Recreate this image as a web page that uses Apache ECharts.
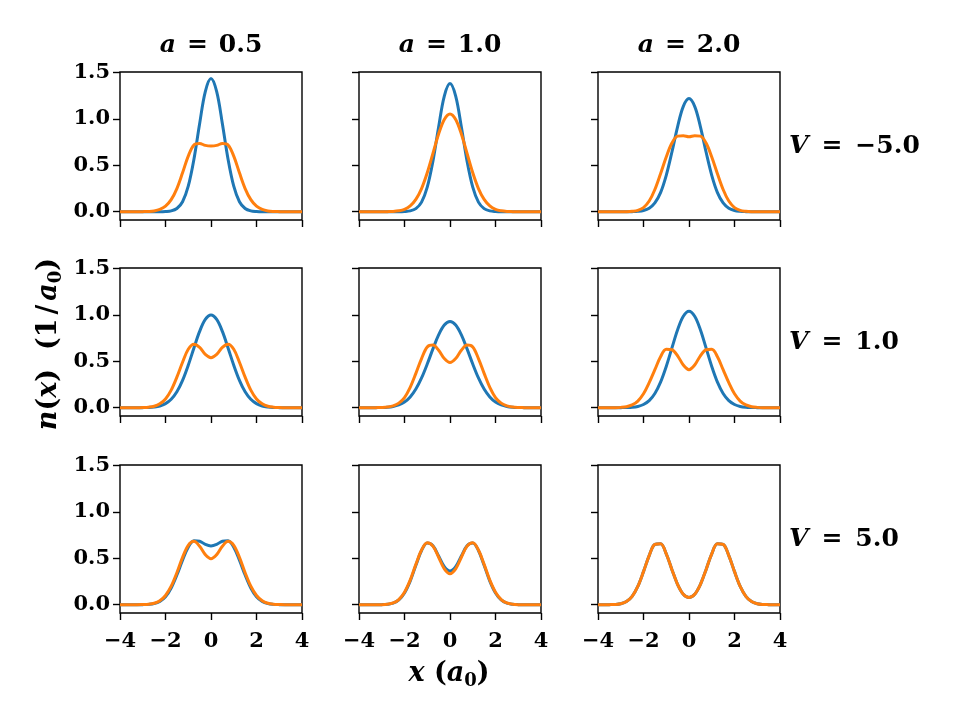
<!DOCTYPE html>
<html><head><meta charset="utf-8">
<script src="https://cdn.jsdelivr.net/npm/echarts@6/dist/echarts.min.js"></script>
<style>html,body{margin:0;padding:0;background:#fff}#c{width:960px;height:720px}</style>
</head><body><div id="c"></div>
<script>
// ---------- data ----------
const xValues = [-4,-3.75,-3.5,-3.25,-3,-2.75,-2.5,-2.25,-2,-1.75,-1.5,-1.25,-1,-0.75,-0.5,-0.25,0,0.25,0.5,0.75,1,1.25,1.5,1.75,2,2.25,2.5,2.75,3,3.25,3.5,3.75,4];
const aValues = ['0.5','1.0','2.0'];
const vValues = ['\u22125.0','1.0','5.0'];
const xTickValues = [-4,-2,0,2,4];
const xTickLabels = ['\u22124','\u22122','0','2','4'];
const yTickValues = [0,0.5,1,1.5];
const yTickLabels = ['0.0','0.5','1.0','1.5'];

// row V=-5
const blue_Vm5_a05 = [0,0,0,0,0,0,0,0,0.002,0.009,0.035,0.108,0.275,0.566,0.949,1.294,1.435,1.294,0.949,0.566,0.275,0.108,0.035,0.009,0.002,0,0,0,0,0,0,0,0];
const orange_Vm5_a05 = [0,0,0,0,0.001,0.003,0.009,0.025,0.06,0.13,0.25,0.42,0.60,0.72,0.735,0.715,0.709,0.715,0.735,0.72,0.60,0.42,0.25,0.13,0.06,0.025,0.009,0.003,0.001,0,0,0,0];
const blue_Vm5_a10 = [0,0,0,0,0,0,0,0,0.002,0.009,0.034,0.104,0.265,0.545,0.914,1.247,1.382,1.247,0.914,0.545,0.265,0.104,0.034,0.009,0.002,0,0,0,0,0,0,0,0];
const orange_Vm5_a10 = [0,0,0,0,0,0.001,0.003,0.010,0.026,0.063,0.133,0.250,0.420,0.628,0.837,0.995,1.054,0.995,0.837,0.628,0.420,0.250,0.133,0.063,0.026,0.010,0.003,0.001,0,0,0,0,0];
const blue_Vm5_a20 = [0,0,0,0,0,0,0.001,0.004,0.013,0.038,0.095,0.206,0.392,0.644,0.918,1.136,1.22,1.136,0.918,0.644,0.392,0.206,0.095,0.038,0.013,0.004,0.001,0,0,0,0,0,0];
const orange_Vm5_a20 = [0,0,0,0,0,0.001,0.005,0.015,0.045,0.115,0.24,0.41,0.59,0.74,0.815,0.818,0.808,0.818,0.815,0.74,0.59,0.41,0.24,0.115,0.045,0.015,0.005,0.001,0,0,0,0,0];
// row V=1
const blue_V1_a05 = [0,0,0,0,0.001,0.003,0.008,0.019,0.044,0.091,0.172,0.295,0.458,0.644,0.823,0.952,1.0,0.952,0.823,0.644,0.458,0.295,0.172,0.091,0.044,0.019,0.008,0.003,0.001,0,0,0,0];
const orange_V1_a05 = [0,0,0,0,0.002,0.006,0.016,0.042,0.095,0.19,0.33,0.49,0.63,0.683,0.65,0.575,0.54,0.575,0.65,0.683,0.63,0.49,0.33,0.19,0.095,0.042,0.016,0.006,0.002,0,0,0,0];
const blue_V1_a10 = [0,0,0,0.001,0.002,0.005,0.013,0.030,0.061,0.116,0.201,0.321,0.471,0.634,0.785,0.891,0.93,0.891,0.785,0.634,0.471,0.321,0.201,0.116,0.061,0.030,0.013,0.005,0.002,0.001,0,0,0];
const orange_V1_a10 = [0,0,0,0.001,0.003,0.008,0.02,0.05,0.11,0.22,0.37,0.53,0.655,0.675,0.62,0.53,0.487,0.53,0.62,0.675,0.655,0.53,0.37,0.22,0.11,0.05,0.02,0.008,0.003,0.001,0,0,0];
const blue_V1_a20 = [0,0,0,0,0.001,0.002,0.005,0.014,0.035,0.077,0.154,0.276,0.445,0.645,0.841,0.986,1.04,0.986,0.841,0.645,0.445,0.276,0.154,0.077,0.035,0.014,0.005,0.002,0.001,0,0,0,0];
const orange_V1_a20 = [0,0,0,0.001,0.004,0.011,0.03,0.072,0.15,0.27,0.41,0.55,0.63,0.625,0.56,0.46,0.41,0.46,0.56,0.625,0.63,0.55,0.41,0.27,0.15,0.072,0.03,0.011,0.004,0.001,0,0,0];
// row V=5
const blue_V5_a05 = [0,0,0,0,0.001,0.004,0.012,0.035,0.085,0.18,0.32,0.48,0.62,0.69,0.685,0.65,0.633,0.65,0.685,0.69,0.62,0.48,0.32,0.18,0.085,0.035,0.012,0.004,0.001,0,0,0,0];
const orange_V5_a05 = [0,0,0,0,0.002,0.005,0.016,0.043,0.1,0.2,0.345,0.51,0.64,0.683,0.63,0.54,0.496,0.54,0.63,0.683,0.64,0.51,0.345,0.2,0.1,0.043,0.016,0.005,0.002,0,0,0,0];
const blue_V5_a10 = [0,0,0,0,0.001,0.005,0.017,0.052,0.127,0.255,0.425,0.585,0.665,0.635,0.525,0.41,0.363,0.41,0.525,0.635,0.665,0.585,0.425,0.255,0.127,0.052,0.017,0.005,0.001,0,0,0,0];
const orange_V5_a10 = [0,0,0,0,0.001,0.006,0.019,0.056,0.135,0.265,0.435,0.590,0.667,0.632,0.512,0.387,0.335,0.387,0.512,0.632,0.667,0.590,0.435,0.265,0.135,0.056,0.019,0.006,0.001,0,0,0,0];
const blue_V5_a20 = [0,0,0.001,0.003,0.011,0.034,0.091,0.198,0.357,0.530,0.650,0.657,0.549,0.378,0.218,0.113,0.078,0.113,0.218,0.378,0.549,0.657,0.650,0.530,0.357,0.198,0.091,0.034,0.011,0.003,0.001,0,0];
const orange_V5_a20 = [0,0,0.001,0.003,0.011,0.034,0.091,0.198,0.357,0.530,0.650,0.657,0.549,0.378,0.218,0.113,0.078,0.113,0.218,0.378,0.549,0.657,0.650,0.530,0.357,0.198,0.091,0.034,0.011,0.003,0.001,0,0];

const panels = [
  [blue_Vm5_a05, orange_Vm5_a05], [blue_Vm5_a10, orange_Vm5_a10], [blue_Vm5_a20, orange_Vm5_a20],
  [blue_V1_a05, orange_V1_a05], [blue_V1_a10, orange_V1_a10], [blue_V1_a20, orange_V1_a20],
  [blue_V5_a05, orange_V5_a05], [blue_V5_a10, orange_V5_a10], [blue_V5_a20, orange_V5_a20]
];

// ---------- layout / style ----------
const FONT = 'DejaVu Serif';
const colLeft = [120, 359, 598];
const rowTop = [72, 268, 465];
const PW = 182, PH = 148;
const BLUE = '#1f77b4', ORANGE = '#ff7f0e';

const grids = [], xAxes = [], yAxes = [], series = [];
for (let r = 0; r < 3; r++) {
  for (let c = 0; c < 3; c++) {
    const i = r * 3 + c;
    grids.push({left: colLeft[c], top: rowTop[r], width: PW, height: PH, show: true,
      borderColor: '#000', borderWidth: 1.4, backgroundColor: 'transparent', containLabel: false});
    xAxes.push({gridIndex: i, type: 'value', min: -4, max: 4,
      axisLine: {show: false, onZero: false},
      splitLine: {show: false},
      axisTick: {show: true, customValues: xTickValues, length: 7, lineStyle: {color: '#000', width: 1.4}},
      axisLabel: {show: r === 2, customValues: xTickValues, margin: 18,
        formatter: v => xTickLabels[xTickValues.indexOf(v)],
        fontFamily: FONT, fontWeight: 'bold', fontSize: 21, color: '#000'}
    });
    yAxes.push({gridIndex: i, type: 'value', min: -0.089, max: 1.506,
      axisLine: {show: false, onZero: false},
      splitLine: {show: false},
      axisTick: {show: true, customValues: yTickValues, length: 7, lineStyle: {color: '#000', width: 1.4}},
      axisLabel: {show: c === 0, customValues: yTickValues, margin: 10,
        formatter: v => yTickLabels[yTickValues.indexOf(v)],
        fontFamily: FONT, fontWeight: 'bold', fontSize: 21, color: '#000'}
    });
    const [b, o] = panels[i];
    series.push({type: 'line', xAxisIndex: i, yAxisIndex: i, showSymbol: false, smooth: 0.35,
      data: xValues.map((x, k) => [x, b[k]]), lineStyle: {color: BLUE, width: 3}, itemStyle: {color: BLUE}, z: 2, silent: true});
    series.push({type: 'line', xAxisIndex: i, yAxisIndex: i, showSymbol: false, smooth: 0.35,
      data: xValues.map((x, k) => [x, o[k]]), lineStyle: {color: ORANGE, width: 3}, itemStyle: {color: ORANGE}, z: 3, silent: true});
  }
}

const rich = {
  i: {fontFamily: FONT, fontWeight: 'bold', fontStyle: 'italic', fontSize: 25, color: '#000'},
  r: {fontFamily: FONT, fontWeight: 'bold', fontSize: 25, color: '#000'},
  e: {fontFamily: FONT, fontWeight: 'bold', fontSize: 25, color: '#000', padding: [0, 11, 0, 11]},
  m: {fontFamily: FONT, fontWeight: 'bold', fontSize: 25, color: '#000', padding: [0, 13, 0, 13]}
};
const richLab = {
  i: {fontFamily: FONT, fontWeight: 'bold', fontStyle: 'italic', fontSize: 27, color: '#000'},
  r: {fontFamily: FONT, fontWeight: 'bold', fontSize: 27, color: '#000'},
  g: {fontFamily: FONT, fontWeight: 'bold', fontSize: 27, color: '#000', padding: [0, 4, 0, 4]},
  s: {fontFamily: FONT, fontWeight: 'bold', fontSize: 18, color: '#000', padding: [15, 0, 0, 0]}
};
const graphics = [];
for (let c = 0; c < 3; c++) {
  graphics.push({type: 'text', x: colLeft[c] + PW / 2, y: 45,
    style: {text: '{i|a}{e|=}{r|' + aValues[c] + '}', rich, align: 'center', verticalAlign: 'middle'}});
}
for (let r = 0; r < 3; r++) {
  graphics.push({type: 'text', x: 789, y: rowTop[r] + PH / 2,
    style: {text: '{i|V}{m|=}{r|' + vValues[r] + '}', rich, align: 'left', verticalAlign: 'middle'}});
}
graphics.push({type: 'text', x: 49, y: 344, rotation: Math.PI / 2,
  style: {text: '{i|n}{r|(}{i|x}{r|)  (1}{g|/}{i|a}{s|0}{r|)}', rich: richLab, align: 'center', verticalAlign: 'middle'}});
graphics.push({type: 'text', x: 449, y: 674,
  style: {text: '{i|x}{r| (}{i|a}{s|0}{r|)}', rich: richLab, align: 'center', verticalAlign: 'middle'}});

const chart = echarts.init(document.getElementById('c'), null, {renderer: 'canvas'});
chart.setOption({
  animation: false,
  backgroundColor: '#fff',
  grid: grids, xAxis: xAxes, yAxis: yAxes, series,
  graphic: graphics
});
</script></body></html>
